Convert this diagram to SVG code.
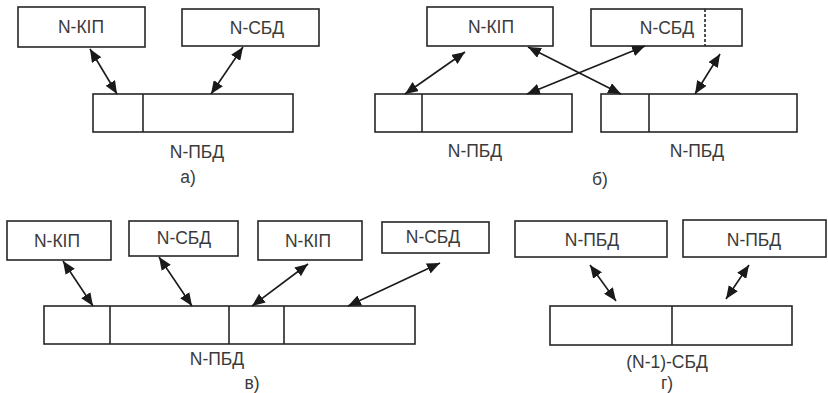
<svg xmlns="http://www.w3.org/2000/svg" width="828" height="393" viewBox="0 0 828 393">
  <style>
    .box { fill: #fff; stroke: #262626; stroke-width: 1.6; }
    .div { stroke: #262626; stroke-width: 1.6; fill: none; }
    .dash { stroke: #262626; stroke-width: 1.6; stroke-dasharray: 3 2; fill: none; }
    .lbl { font-family: "Liberation Sans", Arial, sans-serif; font-size: 17.5px; fill: #3a3a3a; text-anchor: middle; }
    .arr { stroke: #1a1a1a; stroke-width: 1.6; fill: none; marker-start: url(#head); marker-end: url(#head); }
  </style>
  <defs>
    <marker id="head" viewBox="0 0 13 11" refX="13" refY="5.5" markerWidth="13" markerHeight="11" markerUnits="userSpaceOnUse" orient="auto-start-reverse">
      <path d="M0,0 L13,5.5 L0,11 Z" fill="#1a1a1a"/>
    </marker>
  </defs>
  <rect width="828" height="393" fill="#fff"/>

  <!-- panel a -->
  <g id="a-kip"><rect class="box" x="18" y="7" width="127" height="40"/><text class="lbl" x="81" y="33">N-КІП</text></g>
  <g id="a-sbd"><rect class="box" x="182" y="9" width="137" height="37"/><text class="lbl" x="257" y="34">N-СБД</text></g>
  <g id="a-pbd"><rect class="box" x="93" y="94" width="200" height="38"/><line class="div" x1="143" y1="94" x2="143" y2="132"/><text class="lbl" x="197" y="158">N-ПБД</text></g>
  <text class="lbl" x="188" y="183">а)</text>

  <!-- panel b -->
  <g id="b-kip"><rect class="box" x="427" y="7" width="126" height="39"/><text class="lbl" x="491" y="33">N-КІП</text></g>
  <g id="b-sbd"><rect class="box" x="591" y="9" width="151" height="37"/><line class="dash" x1="705" y1="9" x2="705" y2="46"/><text class="lbl" x="667" y="34">N-СБД</text></g>
  <g id="b-pbd1"><rect class="box" x="375" y="94" width="197" height="38"/><line class="div" x1="422" y1="94" x2="422" y2="132"/><text class="lbl" x="475" y="157">N-ПБД</text></g>
  <g id="b-pbd2"><rect class="box" x="601" y="94" width="196" height="38"/><line class="div" x1="649" y1="94" x2="649" y2="132"/><text class="lbl" x="697" y="157">N-ПБД</text></g>
  <text class="lbl" x="600" y="185">б)</text>

  <!-- panel c -->
  <g id="c-kip1"><rect class="box" x="7" y="221" width="104" height="39"/><text class="lbl" x="57" y="247">N-КІП</text></g>
  <g id="c-sbd1"><rect class="box" x="129" y="221" width="109" height="35"/><text class="lbl" x="184" y="244">N-СБД</text></g>
  <g id="c-kip2"><rect class="box" x="258" y="221" width="104" height="39"/><text class="lbl" x="308" y="247">N-КІП</text></g>
  <g id="c-sbd2"><rect class="box" x="382" y="222" width="107" height="31"/><text class="lbl" x="433" y="243">N-СБД</text></g>
  <g id="c-pbd"><rect class="box" x="44" y="306" width="371" height="38"/>
    <line class="div" x1="110" y1="306" x2="110" y2="344"/>
    <line class="div" x1="229" y1="306" x2="229" y2="344"/>
    <line class="div" x1="284" y1="306" x2="284" y2="344"/>
    <text class="lbl" x="217" y="365">N-ПБД</text></g>
  <text class="lbl" x="252" y="389">в)</text>

  <!-- panel d -->
  <g id="d-pbd1"><rect class="box" x="515" y="221" width="152" height="36"/><text class="lbl" x="592" y="246">N-ПБД</text></g>
  <g id="d-pbd2"><rect class="box" x="683" y="220" width="143" height="37"/><text class="lbl" x="754" y="246">N-ПБД</text></g>
  <g id="d-sbd"><rect class="box" x="550" y="306" width="242" height="39"/><line class="div" x1="672" y1="306" x2="672" y2="345"/><text class="lbl" x="667" y="368">(N-1)-СБД</text></g>
  <text class="lbl" x="667" y="389">г)</text>

  <!-- connectors -->
  <g id="connectors">
    <line class="arr" x1="90" y1="49" x2="117" y2="94"/>
    <line class="arr" x1="243" y1="47" x2="211" y2="94"/>
    <line class="arr" x1="465" y1="52" x2="405" y2="94"/>
    <line class="arr" x1="528" y1="47" x2="621" y2="94"/>
    <line class="arr" x1="645" y1="46" x2="527" y2="94"/>
    <line class="arr" x1="720" y1="54" x2="695" y2="94"/>
    <line class="arr" x1="63" y1="261" x2="93" y2="306"/>
    <line class="arr" x1="159" y1="257" x2="192" y2="306"/>
    <line class="arr" x1="308" y1="264" x2="252" y2="306"/>
    <line class="arr" x1="440" y1="263" x2="348" y2="306"/>
    <line class="arr" x1="590" y1="265" x2="616" y2="301"/>
    <line class="arr" x1="749" y1="265" x2="726" y2="299"/>
  </g>
</svg>
